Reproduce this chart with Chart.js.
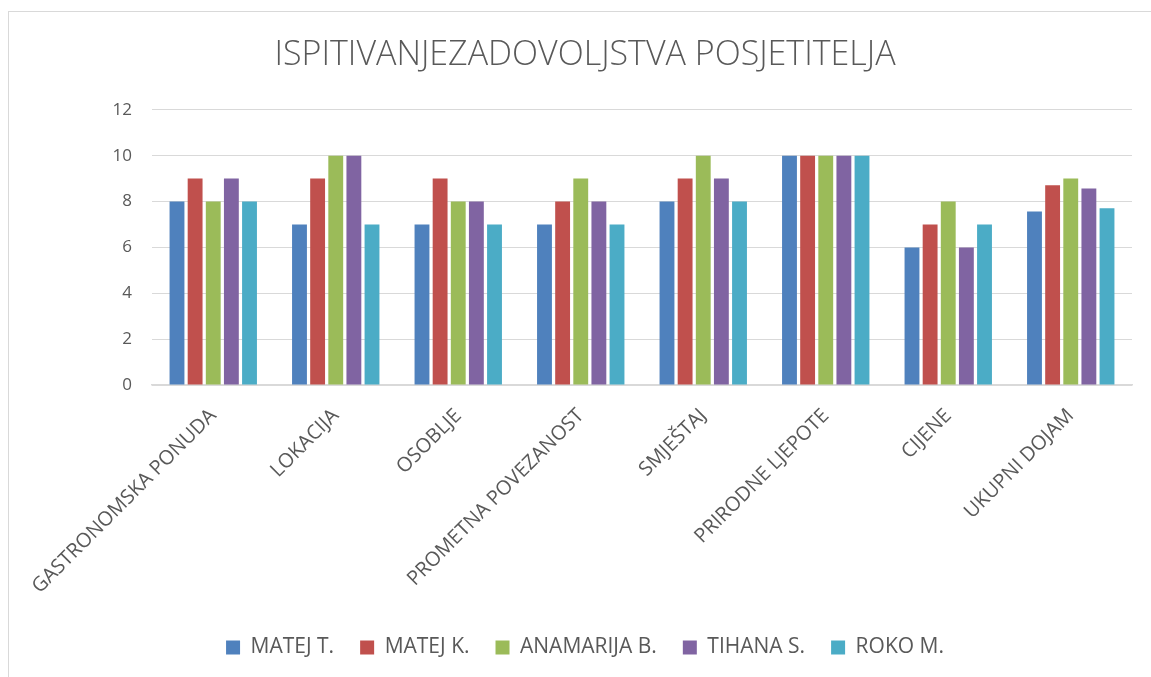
<!DOCTYPE html>
<html>
<head>
<meta charset="utf-8">
<script src="https://cdn.jsdelivr.net/npm/chart.js@4"></script>
<style>
  body { margin: 0; background: #ffffff; overflow: hidden; }
  #okvir { position: absolute; left: 8px; top: 11px; width: 1300px; height: 800px; border: 1px solid #d9d9d9; }
  #grafikon { position: absolute; left: 0; top: 0; display: block; }
</style>
</head>
<body>
<div id="okvir"></div>
<canvas id="grafikon" width="1151" height="700"></canvas>
<script>
// Podaci s grafikona
const kategorije = ['GASTRONOMSKA PONUDA', 'LOKACIJA', 'OSOBLJE', 'PROMETNA POVEZANOST', 'SMJEŠTAJ', 'PRIRODNE LJEPOTE', 'CIJENE', 'UKUPNI DOJAM'];
const matejT = [8, 7, 7, 7, 8, 10, 6, 7.57];
const matejK = [9, 9, 9, 8, 9, 10, 7, 8.71];
const anamarijaB = [8, 10, 8, 9, 10, 10, 8, 9];
const tihanaS = [9, 10, 8, 8, 9, 10, 6, 8.57];
const rokoM = [8, 7, 7, 7, 8, 10, 7, 7.71];
const yOznake = [0, 2, 4, 6, 8, 10, 12];

const sivaTekst = '#595959';
const font = "'Open Sans', 'Liberation Sans', sans-serif";

function serija(naziv, podaci, boja) {
    return {
        label: naziv,
        data: podaci,
        backgroundColor: boja,
        borderWidth: 0,
        categoryPercentage: 0.74,
        barPercentage: 0.82
    };
}

new Chart(document.getElementById('grafikon'), {
    type: 'bar',
    data: {
        labels: kategorije,
        datasets: [
            serija('MATEJ T.', matejT, '#4f81bd'),
            serija('MATEJ K.', matejK, '#c0504d'),
            serija('ANAMARIJA B.', anamarijaB, '#9bbb59'),
            serija('TIHANA S.', tihanaS, '#8064a2'),
            serija('ROKO M.', rokoM, '#4bacc6')
        ]
    },
    options: {
        responsive: false,
        animation: false,
        layout: { padding: { left: 38, right: 19, top: 0, bottom: 32 } },
        plugins: {
            title: {
                display: true,
                text: 'ISPITIVANJEZADOVOLJSTVA POSJETITELJA',
                color: sivaTekst,
                font: { family: font, size: 34, weight: '300' },
                padding: { top: 35, bottom: 34 }
            },
            legend: {
                position: 'bottom',
                labels: {
                    color: sivaTekst,
                    font: { family: font, size: 21 },
                    boxWidth: 14,
                    boxHeight: 14,
                    padding: 26
                }
            },
            tooltip: { enabled: false }
        },
        scales: {
            x: {
                afterFit: function(os) { os.height = 226; },
                grid: { display: false, drawTicks: false },
                border: { color: '#d9d9d9', width: 1.5 },
                ticks: {
                    color: sivaTekst,
                    font: { family: font, size: 20 },
                    minRotation: 45,
                    maxRotation: 45,
                    padding: 19
                }
            },
            y: {
                min: 0,
                max: 12,
                afterFit: function(os) { os.width = 114; },
                afterBuildTicks: function(os) {
                    os.ticks = yOznake.map(v => ({ value: v }));
                },
                grid: { color: '#d9d9d9', lineWidth: 1, drawTicks: false },
                border: { display: false },
                ticks: {
                    color: sivaTekst,
                    font: { family: font, size: 17 },
                    padding: 20
                }
            }
        }
    }
});
</script>
</body>
</html>
